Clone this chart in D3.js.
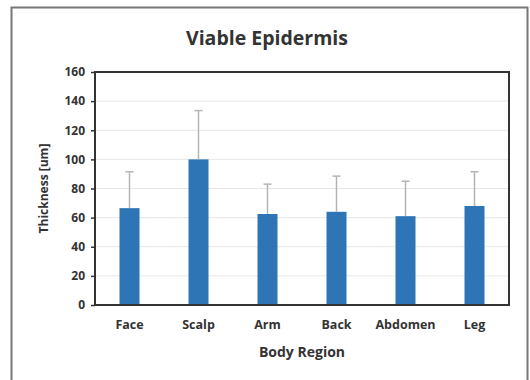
<!DOCTYPE html>
<html>
<head>
<meta charset="utf-8">
<script src="https://cdn.jsdelivr.net/npm/d3@7"></script>
<style>
  body { margin: 0; background: #fff; }
  text { font-family: 'Open Sans', 'Liberation Sans', sans-serif; font-weight: bold; fill: #333; }
</style>
</head>
<body>
<div id="chart"></div>
<script>
const regions = ['Face', 'Scalp', 'Arm', 'Back', 'Abdomen', 'Leg']
const thickness = [66.5, 100, 62.5, 64, 61, 68]
const errorPlus = [25, 33.5, 20.5, 24.5, 24, 23.5]
const yTicks = [0, 20, 40, 60, 80, 100, 120, 140, 160]

const margin = { top: 72, right: 21, bottom: 75, left: 95 }
const width = 530 - margin.left - margin.right
const height = 380 - margin.top - margin.bottom

const root = d3
  .select('#chart')
  .append('svg')
  .attr('width', 530)
  .attr('height', 380)

// outer frame (bottom edge is cut off in the picture)
root.append('path')
  .attr('d', 'M11.5,380 L11.5,7.5 L527.5,7.5 L527.5,380')
  .attr('fill', 'none')
  .attr('stroke', '#777')
  .attr('stroke-width', 2)

const svg = root.append('g')
  .attr('transform', 'translate(' + margin.left + ',' + margin.top + ')')

const x = d3.scaleBand()
  .domain(regions)
  .range([0, width])
  .paddingInner(0.71)
  .paddingOuter(0.355)

const y = d3.scaleLinear()
  .domain([0, 160])
  .range([height, 0])

// gridlines
svg.selectAll('.grid')
  .data(yTicks.slice(1, -1))
  .enter()
  .append('line')
  .attr('class', 'grid')
  .attr('x1', 0)
  .attr('x2', width)
  .attr('y1', d => y(d))
  .attr('y2', d => y(d))
  .attr('stroke', '#e6e6e6')
  .attr('stroke-width', 1)

// bars
svg.selectAll('.bar')
  .data(regions)
  .enter()
  .append('rect')
  .attr('class', 'bar')
  .attr('x', d => x(d))
  .attr('width', x.bandwidth())
  .attr('y', (d, i) => y(thickness[i]))
  .attr('height', (d, i) => height - y(thickness[i]))
  .attr('fill', '#2e75b6')

// error bars (plus only)
const cx = d => x(d) + x.bandwidth() / 2
svg.selectAll('.err')
  .data(regions)
  .enter()
  .append('line')
  .attr('class', 'err')
  .attr('x1', cx)
  .attr('x2', cx)
  .attr('y1', (d, i) => y(thickness[i]))
  .attr('y2', (d, i) => y(thickness[i] + errorPlus[i]))
  .attr('stroke', '#b4b4b4')
  .attr('stroke-width', 1.5)

svg.selectAll('.cap')
  .data(regions)
  .enter()
  .append('line')
  .attr('class', 'cap')
  .attr('x1', d => cx(d) - 4)
  .attr('x2', d => cx(d) + 4)
  .attr('y1', (d, i) => y(thickness[i] + errorPlus[i]))
  .attr('y2', (d, i) => y(thickness[i] + errorPlus[i]))
  .attr('stroke', '#b4b4b4')
  .attr('stroke-width', 1.5)

// plot frame
svg.append('rect')
  .attr('x', 0)
  .attr('y', 0)
  .attr('width', width)
  .attr('height', height)
  .attr('fill', 'none')
  .attr('stroke', '#333')
  .attr('stroke-width', 2)

// y axis
const yAxis = d3.axisLeft(y).tickValues(yTicks).tickSize(4).tickPadding(6)
svg.append('g')
  .attr('class', 'axis y-axis')
  .call(yAxis)
  .call(g => g.select('.domain').remove())
  .call(g => g.selectAll('line').attr('stroke', '#333').attr('stroke-width', 1.5))
  .call(g => g.selectAll('text').attr('font-size', 12).attr('fill', '#333'))

// x axis
const xAxis = d3.axisBottom(x).tickSize(0).tickPadding(15)
svg.append('g')
  .attr('class', 'axis x-axis')
  .attr('transform', 'translate(0,' + height + ')')
  .call(xAxis)
  .call(g => g.select('.domain').remove())
  .call(g => g.selectAll('text').attr('font-size', 12.5).attr('fill', '#333'))

// title
root.append('text')
  .attr('x', 267)
  .attr('y', 45)
  .attr('text-anchor', 'middle')
  .attr('font-size', 19.5)
  .text('Viable Epidermis')

root.append('text')
  .attr('x', margin.left + width / 2)
  .attr('y', 357)
  .attr('text-anchor', 'middle')
  .attr('font-size', 14)
  .text('Body Region')

root.append('text')
  .attr('transform', 'translate(48,' + (margin.top + height / 2) + ') rotate(-90)')
  .attr('text-anchor', 'middle')
  .attr('font-size', 12)
  .text('Thickness [um]')
</script>
</body>
</html>
